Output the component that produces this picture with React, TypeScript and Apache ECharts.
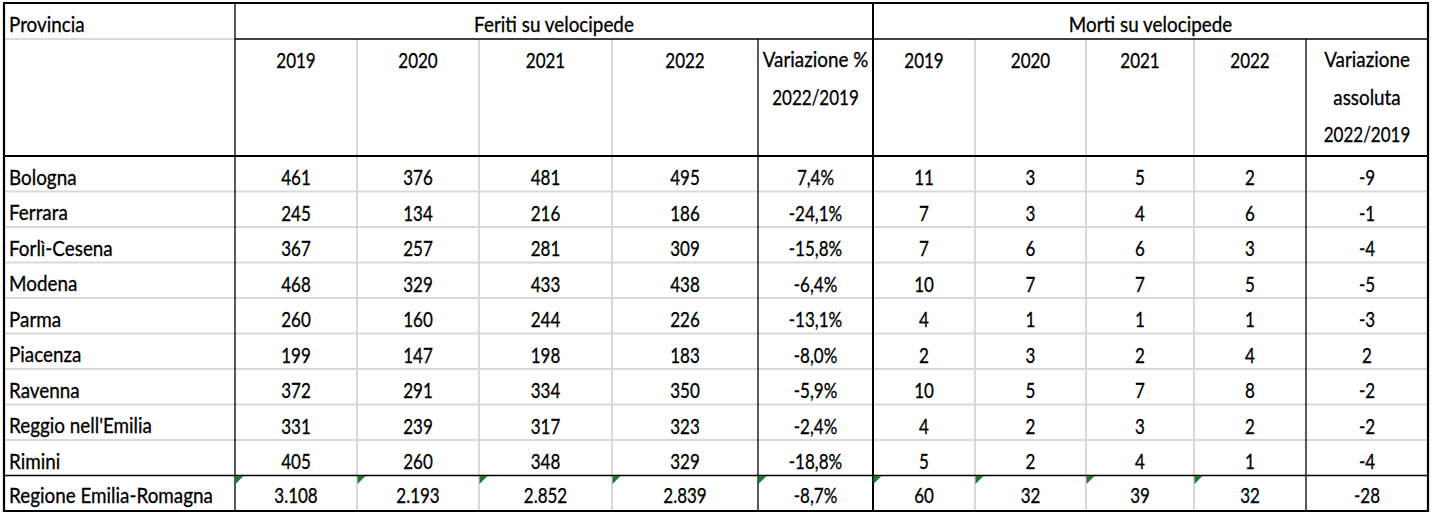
import React, { useEffect, useRef } from "react";
import * as echarts from "echarts";

// ---------- data ----------
const provinces = [
  "Bologna",
  "Ferrara",
  "Forlì-Cesena",
  "Modena",
  "Parma",
  "Piacenza",
  "Ravenna",
  "Reggio nell'Emilia",
  "Rimini",
  "Regione Emilia-Romagna",
];
const feriti2019 = [461, 245, 367, 468, 260, 199, 372, 331, 405, 3108];
const feriti2020 = [376, 134, 257, 329, 160, 147, 291, 239, 260, 2193];
const feriti2021 = [481, 216, 281, 433, 244, 198, 334, 317, 348, 2852];
const feriti2022 = [495, 186, 309, 438, 226, 183, 350, 323, 329, 2839];
const feritiVarPct = [7.4, -24.1, -15.8, -6.4, -13.1, -8.0, -5.9, -2.4, -18.8, -8.7];
const morti2019 = [11, 7, 7, 10, 4, 2, 10, 4, 5, 60];
const morti2020 = [3, 3, 6, 7, 1, 3, 5, 2, 2, 32];
const morti2021 = [5, 4, 6, 7, 1, 2, 7, 3, 4, 39];
const morti2022 = [2, 6, 3, 5, 1, 4, 8, 2, 1, 32];
const mortiVarAbs = [-9, -1, -4, -5, -3, 2, -2, -2, -4, -28];

const years = ["2019", "2020", "2021", "2022"];
const firstHeader = "Provincia";
const groupTitles = ["Feriti su velocipede", "Morti su velocipede"];
const feritiVarHeader = ["Variazione %", "2022/2019"];
const mortiVarHeader = ["Variazione", "assoluta", "2022/2019"];

// ---------- layout ----------
const W = 1434;
const H = 516;
const colEdges = [4, 235, 357, 479, 612, 758, 873, 975, 1086, 1194, 1306, 1428];
const topY = 3;
const head1Bottom = 39;
const head2Bottom = 156;
const rowH = 35.5;
const nRows = provinces.length;
const rowEdges = Array.from({ length: nRows + 1 }, (_, i) => head2Bottom + rowH * i);
const bottomY = rowEdges[nRows];
const headFirstLine = 59.5;
const headLineH = 37.3;

const FONT = "Lato, 'Open Sans', sans-serif";
const FS = 20.5;
const SCALE_X_TEXT = 0.92;
const SCALE_X_NUM = 0.83;
const GRAY = "#d9d9d9";
const BLACK = "#000000";
const GREEN = "#1f7a2e";

const fmtInt = (n: number) => {
  const s = String(Math.abs(n)).replace(/\B(?=(\d{3})+(?!\d))/g, ".");
  return (n < 0 ? "-" : "") + s;
};
const fmtPct = (n: number) => n.toFixed(1).replace(".", ",") + "%";
const isNumeric = (t: string) => /^[-\d.,%/ ]+$/.test(t);

type Cell = { col: number; y: number; text: string };

function buildCells(): Cell[] {
  const cells: Cell[] = [];
  const cols: string[][] = [
    provinces,
    feriti2019.map(fmtInt),
    feriti2020.map(fmtInt),
    feriti2021.map(fmtInt),
    feriti2022.map(fmtInt),
    feritiVarPct.map(fmtPct),
    morti2019.map(fmtInt),
    morti2020.map(fmtInt),
    morti2021.map(fmtInt),
    morti2022.map(fmtInt),
    mortiVarAbs.map(fmtInt),
  ];
  for (let r = 0; r < nRows; r++) {
    const yMid = rowEdges[r + 1] - (r === nRows - 1 ? 16 : 14.5);
    cols.forEach((arr, c) => cells.push({ col: c, y: yMid, text: arr[r] }));
  }
  // header row 1
  cells.push({ col: 0, y: head1Bottom - 14.5, text: firstHeader });
  cells.push({ col: 101, y: head1Bottom - 14.5, text: groupTitles[0] });
  cells.push({ col: 102, y: head1Bottom - 14.5, text: groupTitles[1] });
  // header row 2
  const lineY = (k: number) => headFirstLine + headLineH * k;
  [1, 2, 3, 4].forEach((c, i) => cells.push({ col: c, y: lineY(0), text: years[i] }));
  [6, 7, 8, 9].forEach((c, i) => cells.push({ col: c, y: lineY(0), text: years[i] }));
  feritiVarHeader.forEach((t, k) => cells.push({ col: 5, y: lineY(k), text: t }));
  mortiVarHeader.forEach((t, k) => cells.push({ col: 10, y: lineY(k), text: t }));
  return cells;
}

function buildGraphics() {
  const els: any[] = [];
  const line = (x1: number, y1: number, x2: number, y2: number, stroke: string, lw: number) =>
    els.push({
      type: "line",
      shape: { x1, y1, x2, y2 },
      style: { stroke, lineWidth: lw },
      silent: true,
    });
  const L = colEdges[0];
  const R = colEdges[colEdges.length - 1];
  // gray grid
  for (let i = 1; i < nRows - 1; i++) line(L, rowEdges[i], R, rowEdges[i], GRAY, 2);
  [2, 3, 4, 7, 8, 9].forEach((c) => line(colEdges[c], head1Bottom, colEdges[c], bottomY, GRAY, 2));
  line(L, head1Bottom, colEdges[1], head1Bottom, GRAY, 2);
  // black thin
  line(colEdges[1], head1Bottom, R, head1Bottom, BLACK, 1.3);
  line(colEdges[1], topY, colEdges[1], bottomY, BLACK, 1.3);
  line(colEdges[5], head1Bottom, colEdges[5], bottomY, BLACK, 1.3);
  line(colEdges[10], head1Bottom, colEdges[10], bottomY, BLACK, 1.3);
  line(L, rowEdges[nRows - 1], R, rowEdges[nRows - 1], BLACK, 1.3);
  // black thick
  line(L, head2Bottom, R, head2Bottom, BLACK, 2.2);
  line(colEdges[6], topY, colEdges[6], bottomY, BLACK, 2);
  els.push({
    type: "rect",
    shape: { x: L, y: topY, width: R - L, height: bottomY - topY },
    style: { fill: "none", stroke: BLACK, lineWidth: 2.2 },
    silent: true,
  });
  // green error indicators on total row
  const ty = rowEdges[nRows - 1] + 0.5;
  for (let c = 1; c <= 9; c++) {
    const tx = colEdges[c] + 0.5;
    els.push({
      type: "polygon",
      shape: { points: [[tx, ty], [tx + 8, ty], [tx, ty + 8]] },
      style: { fill: GREEN },
      silent: true,
    });
  }
  return els;
}

export default function App() {
  const ref = useRef<HTMLDivElement>(null);
  useEffect(() => {
    if (!ref.current) return;
    const chart = echarts.init(ref.current, null, { renderer: "svg" });
    const cells = buildCells();
    const colCenter = (c: number) => {
      if (c === 101) return (colEdges[1] + colEdges[6]) / 2;
      if (c === 102) return (colEdges[6] + colEdges[11]) / 2;
      return (colEdges[c] + colEdges[c + 1]) / 2;
    };
    chart.setOption({
      animation: false,
      backgroundColor: "#ffffff",
      grid: { left: 0, right: 0, top: 0, bottom: 0 },
      xAxis: { type: "value", min: 0, max: W, show: false },
      yAxis: { type: "value", min: 0, max: H, inverse: true, show: false },
      graphic: buildGraphics(),
      series: [
        {
          type: "custom",
          coordinateSystem: "cartesian2d",
          silent: true,
          data: cells.map((c) => [c.col === 0 ? colEdges[0] + 5 : colCenter(c.col), c.y]),
          renderItem: (params: any, api: any) => {
            const cell = cells[params.dataIndex];
            const p = api.coord([api.value(0), api.value(1)]);
            return {
              type: "text",
              x: p[0],
              y: p[1],
              scaleX: isNumeric(cell.text) ? SCALE_X_NUM : SCALE_X_TEXT,
              style: {
                text: cell.text,
                fill: "#000000",
                stroke: "#000000",
                lineWidth: 0.3,
                fontFamily: FONT,
                fontSize: FS,
                align: cell.col === 0 ? "left" : "center",
                verticalAlign: "middle",
              },
            };
          },
          z: 10,
        },
      ],
    });
    return () => chart.dispose();
  }, []);
  return (
    <div
      ref={ref}
      style={{ position: "absolute", left: 0, top: 0, width: W, height: H, background: "#fff" }}
    />
  );
}
